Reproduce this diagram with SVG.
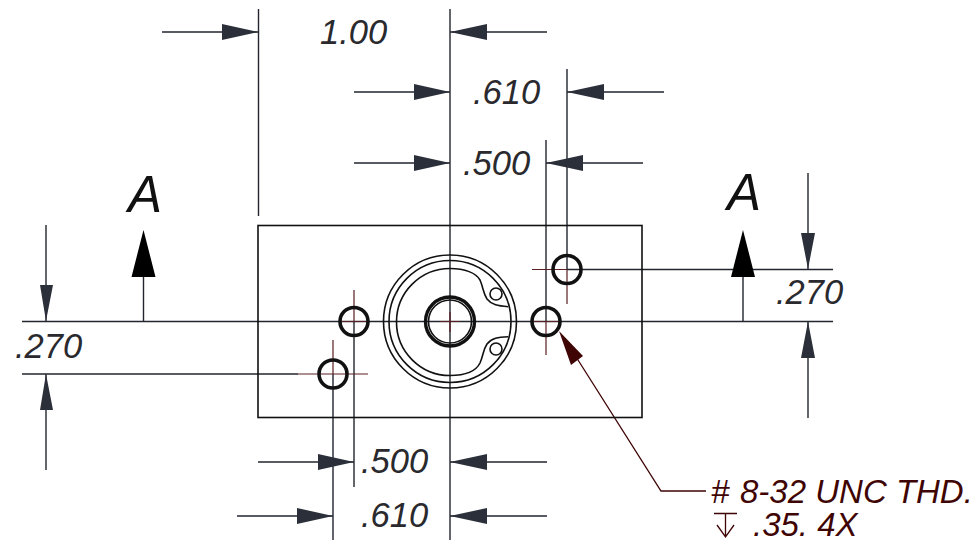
<svg xmlns="http://www.w3.org/2000/svg" width="975" height="546" viewBox="0 0 975 546">
<style>
.d{stroke:#23262f;stroke-width:1.4;fill:none}
.a{fill:#2a2f3a;stroke:none}
.k{fill:#000;stroke:none}
.o{stroke:#111;stroke-width:1.6;fill:none}
.h{stroke:#111;stroke-width:3.6;fill:none}
.c{stroke:#5c1f24;stroke-width:1.2;fill:none}
.t{font-family:"Liberation Sans",Arial,sans-serif;font-style:italic;font-size:34.5px;fill:#2a2a2e}
.s{font-family:"Liberation Sans",Arial,sans-serif;font-style:italic;font-size:51px;fill:#111}
.n{font-family:"Liberation Sans",Arial,sans-serif;font-style:italic;font-size:33px;fill:#3f0505}
.m{stroke:#3f0505;stroke-width:1.3;fill:none}
</style>
<rect width="975" height="546" fill="#fff"/>
<g id="connectors">
<path class="d" d="M450 9V540M258.500 9V216M567 69V269.500M546 140V321.500M354 321.500V487M333 374V540"/>
<path class="d" d="M162 32H258M450 32H547M354 92H450M567 92H664M354 163H450M546 163H643M258 462H354M450 462H547M237 516H333M450 516H547"/>
<path class="d" d="M22 321.500H833M22 374H298M567 269.500H833M46 225V321M46 374V470M808 173V269M808 321.500V418M143.500 277V321.500M743 277V321.500"/>
<path class="c" d="M532 269.500H567M567 269.500V304M546 321.500V355M354 290V321.500M333 340V374M298 374H368M340 321.500H368M532 321.500H560"/>
<path class="a" d="M258 32L222 24V40ZM450 32L487 24V40ZM450 92L414 84V100ZM567 92L604 84V100ZM450 163L414 155V171ZM546 163L583 155V171ZM354 462L318 454V470ZM450 462L487 454V470ZM333 516L297 508V524ZM450 516L487 508V524Z"/>
<path class="a" d="M46 321L40 285H53ZM46 374L40 410H53ZM808 269L801 233H815ZM808 321.500L801 358H815Z"/>
<path class="k" d="M143.500 230L131.500 277H155.500ZM743 230L731 277H755Z"/>
<path class="m" d="M566 341L661 491H706"/>
<path d="M559 331L583 356L571 365Z" fill="#3f0505"/>
</g>
<g id="plate"><rect class="o" x="258" y="225.500" width="384" height="192"/></g>
<g id="boss">
<circle class="o" cx="450" cy="321.500" r="66.500"/>
<circle class="o" cx="450" cy="321.500" r="61"/>
<path class="o" d="M508.300 306.700C498 306 491.700 305 487 299C483 293 483.500 288 480 280C476 273 465 268.500 450 268.500A53 53 0 1 0 450 375.500C465 375.500 476 371 480 363C483.500 355 483 350 487 344C491.700 338 498 337 508.300 336.700"/>
<circle class="o" cx="496" cy="294" r="6"/>
<circle class="o" cx="496" cy="349" r="6"/>
<circle cx="450" cy="321.500" r="24.500" fill="none" stroke="#111" stroke-width="3.4"/>
<circle class="o" cx="450" cy="321.500" r="21.500" stroke-width="1.2"/>
<path class="c" d="M440 321.500H460M450 312V332"/>
</g>
<g id="holes">
<circle class="h" cx="354" cy="321.500" r="14"/>
<circle class="h" cx="546" cy="321.500" r="14"/>
<circle class="h" cx="567" cy="269.500" r="14"/>
<circle class="h" cx="333" cy="374" r="14"/>
</g>
<g id="labels">
<text class="t" x="320" y="44">1.00</text>
<text class="t" x="473" y="104">.610</text>
<text class="t" x="463" y="175">.500</text>
<text class="t" x="361" y="473">.500</text>
<text class="t" x="361" y="527">.610</text>
<text class="t" x="15" y="358">.270</text>
<text class="t" x="776" y="304">.270</text>
<text class="s" x="128" y="212">A</text>
<text class="s" x="727" y="210">A</text>
<text class="n" x="711" y="503">#<tspan x="740">8-32 UNC THD.</tspan></text>
<text class="n" x="753" y="536">.35. 4X</text>
<path class="m" d="M714 513.500H737M725.500 513.500V537M717 525L725.500 537L734 525"/>
</g>
</svg>
